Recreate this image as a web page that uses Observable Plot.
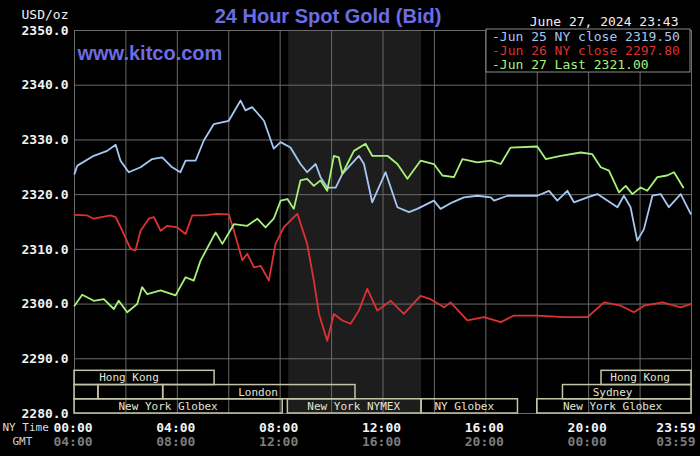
<!DOCTYPE html>
<html>
<head>
<meta charset="utf-8">
<script src="https://cdn.jsdelivr.net/npm/d3@7"></script>
<script src="https://cdn.jsdelivr.net/npm/@observablehq/plot@0.6"></script>
<style>
  html, body { margin: 0; padding: 0; background: #000; }
  #chart svg { display: block; }
</style>
</head>
<body>
<div id="chart"></div>
<script>
// ---- Data (hours since 00:00 NY time, USD/oz) ----
const blueHours = [0.00,0.11,0.75,1.27,1.60,1.79,2.11,2.57,3.02,3.41,3.80,4.12,4.32,4.71,5.03,5.42,6.00,6.46,6.65,6.91,7.37,7.75,8.02,8.40,8.79,9.05,9.38,9.57,9.83,10.16,10.42,11.06,11.26,11.58,12.10,12.56,13.01,13.33,13.98,14.24,14.70,15.15,15.67,16.19,16.32,16.84,18.00,18.46,18.78,19.17,19.43,19.95,20.34,21.12,21.37,21.63,21.89,22.15,22.48,22.80,23.12,23.58,23.97];
const blueVals  = [2323.8,2325.3,2327.1,2328.0,2329.1,2326.2,2324.1,2325.0,2326.5,2326.8,2325.0,2324.1,2326.2,2326.2,2329.9,2332.9,2333.5,2337.2,2335.4,2336.0,2333.5,2328.4,2329.6,2328.6,2325.6,2324.1,2325.6,2323.2,2321.3,2321.3,2323.8,2327.1,2325.6,2318.6,2324.1,2317.7,2316.8,2317.4,2318.9,2317.4,2318.6,2319.5,2319.8,2319.5,2318.9,2319.8,2319.8,2320.7,2318.9,2320.7,2318.6,2319.5,2320.1,2317.7,2319.8,2317.7,2311.6,2313.7,2319.8,2320.1,2317.7,2320.1,2316.5];

const redHours = [0.00,0.49,0.75,1.40,1.60,1.86,2.18,2.37,2.57,2.89,3.09,3.35,3.61,4.00,4.32,4.58,5.03,5.55,6.00,6.20,6.53,6.72,6.98,7.24,7.56,7.82,8.14,8.60,8.67,9.05,9.31,9.51,9.83,10.09,10.42,10.74,11.06,11.39,11.78,12.30,12.81,13.46,13.85,14.37,14.63,15.28,15.93,16.58,17.09,18.00,19.04,19.95,20.60,21.25,21.76,22.15,22.87,23.58,23.97];
const redVals  = [2316.3,2316.2,2315.6,2316.2,2315.9,2313.4,2310.1,2309.8,2313.4,2315.6,2315.9,2313.4,2314.3,2314.0,2312.8,2316.2,2316.2,2316.5,2316.4,2313.4,2308.0,2309.2,2306.7,2307.0,2304.3,2311.0,2314.0,2316.2,2316.5,2311.0,2304.3,2298.2,2293.3,2298.2,2297.0,2296.4,2298.8,2302.8,2298.8,2300.6,2298.2,2301.5,2300.9,2299.4,2300.3,2297.0,2297.6,2296.7,2297.9,2297.9,2297.6,2297.6,2300.3,2299.7,2298.5,2299.7,2300.3,2299.4,2300.0];

const greenHours = [0.00,0.30,0.75,1.14,1.53,1.72,2.05,2.44,2.63,2.83,3.35,3.93,4.32,4.64,4.90,5.49,5.75,6.20,6.72,7.11,7.43,7.75,8.02,8.28,8.53,8.79,9.05,9.31,9.57,9.83,10.09,10.28,10.42,10.61,10.87,11.32,11.58,12.17,12.56,12.95,13.46,13.98,14.31,14.76,15.09,15.67,16.19,16.58,16.96,18.00,18.33,18.91,19.69,20.14,20.47,20.79,21.18,21.44,21.70,22.02,22.28,22.67,23.05,23.32,23.68];
const greenVals  = [2299.7,2301.7,2300.6,2300.9,2299.1,2300.6,2298.5,2300.0,2303.1,2301.8,2302.5,2301.6,2304.9,2304.3,2307.9,2313.1,2311.0,2314.6,2314.3,2315.6,2314.0,2315.6,2318.9,2319.2,2317.4,2322.6,2322.9,2321.6,2322.6,2320.7,2327.1,2326.8,2323.8,2325.6,2328.0,2329.3,2327.1,2327.1,2325.6,2322.9,2326.2,2325.6,2323.5,2323.2,2326.5,2325.9,2326.2,2325.6,2328.6,2328.8,2326.5,2327.1,2327.7,2327.4,2325.0,2324.4,2320.4,2321.6,2320.1,2321.3,2320.7,2323.2,2323.5,2324.1,2321.3];

const seriesNames  = ["Jun 25 NY close 2319.50", "Jun 26 NY close 2297.80", "Jun 27 Last 2321.00"];
const seriesColors = ["#a6c8f2", "#dc3232", "#a8f27a"];

const yTicks = [2280, 2290, 2300, 2310, 2320, 2330, 2340, 2350];
const xGrid  = [0, 2, 4, 6, 8, 10, 12, 14, 16, 18, 20, 22, 24];
const xTickHours = [0, 4, 8, 12, 16, 20];
const nyLabels   = ["00:00", "04:00", "08:00", "12:00", "16:00", "20:00"];
const gmtLabels  = ["04:00", "08:00", "12:00", "16:00", "20:00", "00:00"];
const lastTickHour = 24, lastNy = "23:59", lastGmt = "03:59";

// trading sessions (start hour, end hour, row, label, label hour)
const sessStart = [0, 20.5, 0, 0.93, 3.45, 19, 0, 8.3, 13.5, 18];
const sessEnd   = [5.45, 24, 0.93, 3.45, 10.93, 24, 8.1, 13.5, 17.25, 24];
const sessRow   = [1, 1, 2, 2, 2, 2, 3, 3, 3, 3];
const sessLabel = ["Hong Kong", "Hong Kong", "", "", "London", "Sydney", "New York Globex", "New York NYMEX", "NY Globex", "New York Globex"];
const sessLabelAt = [2.12, 22.0, null, null, 7.14, 20.93, 3.64, 10.86, 15.16, 20.93];
const nymexShade = [8.333, 13.5];

const titleText = "24 Hour Spot Gold (Bid)";
const siteText = "www.kitco.com";
const dateText = "June 27, 2024 23:43";

// ---- Build ----
const mono = "DejaVu Sans Mono, monospace";
const sans = "Liberation Sans, Arial, sans-serif";
const toRows = (h, v) => h.map((t, i) => ({t, v: v[i]}));
const rowH = 2.6;
const sessions = sessStart.map((s, i) => ({
  s, e: sessEnd[i], row: sessRow[i], label: sessLabel[i], at: sessLabelAt[i],
  y1: 2280 + (3 - sessRow[i]) * rowH, y2: 2280 + (4 - sessRow[i]) * rowH
}));

const W = 700, H = 456, mL = 74, mR = 9, mT = 30, mB = 43;
const M = "middle";

const chart = Plot.plot({
  width: W, height: H,
  marginLeft: mL, marginRight: mR, marginTop: mT, marginBottom: mB,
  x: {domain: [0, 24], axis: null},
  y: {domain: [2280, 2350], axis: null},
  style: {background: "#000", overflow: "visible"},
  marks: [
    Plot.rect([nymexShade], {x1: d => d[0], x2: d => d[1], y1: 2280, y2: 2350, fill: "#1d1d1d"}),
    Plot.gridX(xGrid, {stroke: "#6a6a6a", strokeOpacity: 1, strokeWidth: 1}),
    Plot.gridY(yTicks, {stroke: "#6a6a6a", strokeOpacity: 1, strokeWidth: 1}),
    Plot.frame({stroke: "#6a6a6a"}),
    // sessions
    Plot.rect(sessions, {x1: "s", x2: "e", y1: "y1", y2: "y2", fill: "none", stroke: "#c4c4a6", strokeWidth: 1.5}),
    Plot.text(sessions.filter(d => d.label), {x: "at", y: d => (d.y1 + d.y2) / 2, text: "label", lineAnchor: M, fill: "#e4e4d4", fontSize: 11, fontFamily: mono}),
    // price lines
    Plot.line(toRows(blueHours, blueVals), {x: "t", y: "v", stroke: seriesColors[0], strokeWidth: 1.8}),
    Plot.line(toRows(redHours, redVals), {x: "t", y: "v", stroke: seriesColors[1], strokeWidth: 1.8}),
    Plot.line(toRows(greenHours, greenVals), {x: "t", y: "v", stroke: seriesColors[2], strokeWidth: 1.8}),
    // y labels
    Plot.text(yTicks, {y: d => d, frameAnchor: "left", dx: -6, textAnchor: "end", lineAnchor: M, text: d => d.toFixed(1), fill: "#f2f2f2", fontSize: 13, fontFamily: mono, fontWeight: "bold"}),
    Plot.text(["USD/oz"], {frameAnchor: "top-left", dx: -6, dy: -16, textAnchor: "end", lineAnchor: M, text: d => d, fill: "#f2f2f2", fontSize: 13, fontFamily: mono}),
    // x labels
    Plot.text(xTickHours, {x: d => d, frameAnchor: "bottom", dy: 14, dx: -1.5, lineAnchor: M, text: (d, i) => nyLabels[i], fill: "#f4f4f4", fontSize: 13, fontFamily: mono, fontWeight: "bold"}),
    Plot.text(xTickHours, {x: d => d, frameAnchor: "bottom", dy: 28, dx: -1.5, lineAnchor: M, text: (d, i) => gmtLabels[i], fill: "#7c7c7c", fontSize: 13, fontFamily: mono, fontWeight: "bold"}),
    Plot.text([lastTickHour], {x: d => d, frameAnchor: "bottom", dy: 14, dx: 4, textAnchor: "end", lineAnchor: M, text: () => lastNy, fill: "#f4f4f4", fontSize: 13, fontFamily: mono, fontWeight: "bold"}),
    Plot.text([lastTickHour], {x: d => d, frameAnchor: "bottom", dy: 28, dx: 4, textAnchor: "end", lineAnchor: M, text: () => lastGmt, fill: "#7c7c7c", fontSize: 13, fontFamily: mono, fontWeight: "bold"}),
    Plot.text(["NY Time"], {frameAnchor: "bottom-left", dx: -72, dy: 14, textAnchor: "start", lineAnchor: M, text: d => d, fill: "#dcdcdc", fontSize: 11, fontFamily: mono}),
    Plot.text(["GMT"], {frameAnchor: "bottom-left", dx: -62, dy: 28, textAnchor: "start", lineAnchor: M, text: d => d, fill: "#d0d0d0", fontSize: 11, fontFamily: mono}),
    // titles
    Plot.text([titleText], {frameAnchor: "top", dx: -55, dy: -14, lineAnchor: M, text: d => d, fill: "#6c6ce4", fontSize: 20, fontWeight: "bold", fontFamily: sans}),
    Plot.text([siteText], {frameAnchor: "top-left", dx: 3, dy: 23, textAnchor: "start", lineAnchor: M, text: d => d, fill: "#6c6ce4", fontSize: 20, fontWeight: "bold", fontFamily: sans}),
    Plot.text([dateText], {frameAnchor: "top-right", dx: -13, dy: -9, textAnchor: "end", lineAnchor: M, text: d => d, fill: "#f0f0f0", fontSize: 13, fontFamily: mono})
  ]
});

// legend box (top-right, inside plot frame)
const svg = d3.select(chart);
const lg = svg.append("g").attr("font-family", mono).attr("font-size", 13).attr("text-anchor", "start");
const lgRight = W - mR - 1, lgLeft = lgRight - 204, lgTop = mT - 1;
lg.append("rect").attr("x", lgLeft).attr("y", lgTop).attr("width", lgRight - lgLeft).attr("height", 43)
  .attr("fill", "#000").attr("stroke", "#8c8c8c").attr("stroke-width", 1);
seriesNames.forEach((name, i) => {
  lg.append("text").attr("x", lgLeft + 6).attr("y", lgTop + 7.5 + i * 14).attr("dy", "0.35em")
    .attr("fill", seriesColors[i]).text("-" + name);
});

document.getElementById("chart").appendChild(chart);
</script>
</body>
</html>
